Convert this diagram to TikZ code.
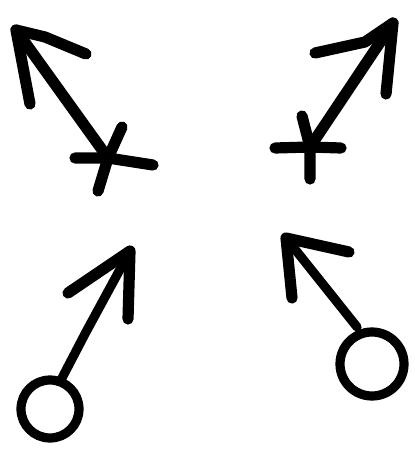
\documentclass[tikz,border=0pt]{standalone}
\usepackage{tikz}

\tikzset{
  pen/.style={black, line width=5.6pt, line cap=round, line join=round},
  thinpen/.style={black, line width=4.6pt, line cap=round, line join=round}
}

\begin{document}
\begin{tikzpicture}[x=0.5pt, y=-0.5pt]
\useasboundingbox (0,0) rectangle (415,449);

% upper left: arrow out of a cross
\coordinate (tipA) at (16,30);
\coordinate (crossA) at (108,158);
\draw[pen] (crossA) -- (tipA);
\draw[pen] (30,104) -- (tipA) -- (45,37) -- (86,54);
\draw[pen] (75,158) -- (crossA) -- (153,165);
\draw[pen] (122,127) -- (crossA) -- (98,191);

% upper right: arrow out of a cross
\coordinate (tipB) at (393,23);
\coordinate (crossB) at (310,147);
\draw[pen] (crossB) -- (tipB);
\draw[pen] (315,53) -- (365,42) -- (tipB) -- (386,94);
\draw[pen] (275,148) -- (crossB) -- (341,148);
\draw[pen] (302,116) -- (crossB) -- (310,179);

% lower left: circle with arrow
\coordinate (tipC) at (130,251);
\coordinate (ringC) at (50,409);
\draw[thinpen] (62,378) -- (86,332) -- (tipC);
\draw[pen] (68,293) -- (tipC) -- (128,319);
\draw[thinpen] (ringC) circle (29);

% lower right: circle with arrow
\coordinate (tipD) at (286,238);
\coordinate (ringD) at (372,364);
\draw[thinpen] (357,327) -- (tipD);
\draw[pen] (292,298) -- (tipD) -- (349,252);
\draw[thinpen] (ringD) circle (32);
\end{tikzpicture}
\end{document}
